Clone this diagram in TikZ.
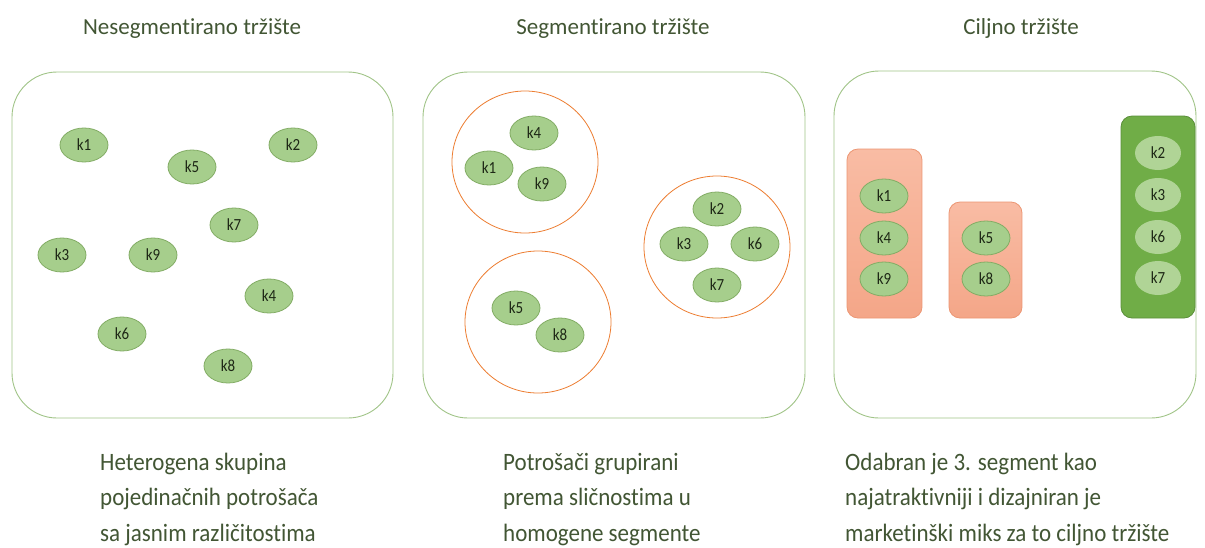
\documentclass[tikz,border=0pt]{standalone}
\usepackage{fontspec}
\setmainfont{Carlito}[Ligatures=NoCommon]
\newfontfamily\descfont{Carlito}[Ligatures=NoCommon, FakeStretch=0.92]
\newfontfamily\lblfont{Carlito}[Ligatures=NoCommon, FakeStretch=0.88]
\usetikzlibrary{shapes.geometric}
\definecolor{panelc}{RGB}{160,196,135}
\definecolor{ellf}{RGB}{166,206,140}
\definecolor{elld}{RGB}{130,172,100}
\definecolor{elltext}{RGB}{30,40,22}
\definecolor{txtc}{RGB}{66,86,52}
\definecolor{orng}{RGB}{237,125,49}
\definecolor{salT}{RGB}{249,188,164}
\definecolor{salB}{RGB}{244,166,136}
\definecolor{salD}{RGB}{236,150,115}
\definecolor{grnF}{RGB}{112,173,71}
\definecolor{grnD}{RGB}{90,142,58}
\definecolor{lgrn}{RGB}{176,212,150}
\tikzset{
  panel/.style={draw=panelc, line width=0.9pt, rounded corners=45pt},
  cust/.style={ellipse, draw=elld, fill=ellf, line width=0.8pt, minimum width=48pt, minimum height=34pt, inner sep=0pt, font=\lblfont\fontsize{17}{17}\selectfont, text=elltext},
  custl/.style={ellipse, fill=lgrn, minimum width=46pt, minimum height=34pt, inner sep=0pt, font=\lblfont\fontsize{17}{17}\selectfont, text=elltext},
  seg/.style={ellipse, draw=orng, line width=0.8pt, minimum width=146pt, minimum height=142pt, inner sep=0pt},
  salbox/.style={draw=salD, line width=0.8pt, top color=salT, bottom color=salB, rounded corners=11pt},
  grnbox/.style={draw=grnD, line width=0.8pt, fill=grnF, rounded corners=11pt},
  ttl/.style={font=\fontsize{23}{28}\selectfont, text=txtc, anchor=base, inner sep=0pt},
  desc/.style={font=\descfont\fontsize{25}{35.5}\selectfont, text=txtc, align=left, anchor=base west, inner sep=0pt},
}
\begin{document}
\begin{tikzpicture}[x=1pt,y=-1pt]
\useasboundingbox (0,0) rectangle (1205,547);
\fill[white] (0,0) rectangle (1205,547);
% titles
\node[ttl] (t1) at (192,34) {Nesegmentirano tržište};
\node[ttl] (t2) at (613,34) {Segmentirano tržište};
\node[ttl] (t3) at (1021,34) {Ciljno tržište};
% panels
\draw[panel] (12,72) rectangle (393,418);
\draw[panel] (423,72) rectangle (805,418);
\draw[panel] (834,71) rectangle (1196,418);
% panel 1
\node[cust] (a1) at (84,145) {k1};
\node[cust] (a2) at (293,145) {k2};
\node[cust] (a5) at (192,167) {k5};
\node[cust] (a7) at (234,225) {k7};
\node[cust] (a3) at (62,255) {k3};
\node[cust] (a9) at (153,255) {k9};
\node[cust] (a4) at (269,296) {k4};
\node[cust] (a6) at (122,334) {k6};
\node[cust] (a8) at (228,366) {k8};
% panel 2
\node[seg] (s1) at (525,162) {};
\node[seg] (s2) at (538,322) {};
\node[seg] (s3) at (717,247) {};
\node[cust] (b4) at (534,133) {k4};
\node[cust] (b1) at (489,168) {k1};
\node[cust] (b9) at (542,184) {k9};
\node[cust] (b5) at (516,308) {k5};
\node[cust] (b8) at (560,335) {k8};
\node[cust] (b2) at (717,209) {k2};
\node[cust] (b3) at (684,244) {k3};
\node[cust] (b6) at (755,244) {k6};
\node[cust] (b7) at (717,285) {k7};
% panel 3
\draw[salbox] (847,149) rectangle (922,318);
\draw[salbox] (949,202) rectangle (1022,318);
\draw[grnbox] (1121,116) rectangle (1195,318);
\node[cust] (c1) at (884,196) {k1};
\node[cust] (c4) at (884,238) {k4};
\node[cust] (c9) at (884,279) {k9};
\node[cust] (c5) at (986,238) {k5};
\node[cust] (c8) at (986,279) {k8};
\node[custl] (c2) at (1158,153) {k2};
\node[custl] (c3) at (1158,195) {k3};
\node[custl] (c6) at (1158,237) {k6};
\node[custl] (c7) at (1158,278) {k7};
% descriptions (anchored at the baseline of their last line)
\node[desc] (d1) at (100,541) {Heterogena skupina\\pojedinačnih potrošača\\sa jasnim različitostima};
\node[desc] (d2) at (503,541) {Potrošači grupirani\\prema sličnostima u\\homogene segmente};
\node[desc] (d3) at (845,541) {Odabran je 3. segment kao\\najatraktivniji i dizajniran je\\marketinški miks za to ciljno tržište};
\end{tikzpicture}
\end{document}
